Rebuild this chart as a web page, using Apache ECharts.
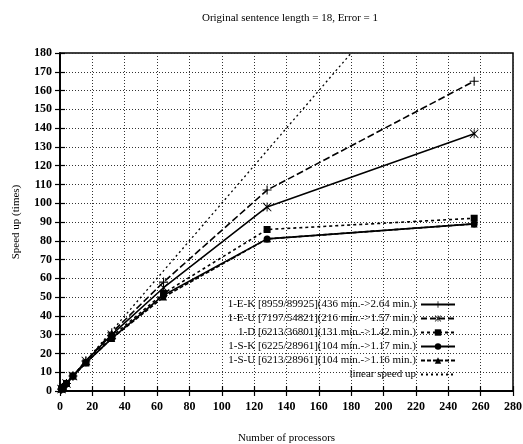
<!DOCTYPE html>
<html><head><meta charset="utf-8">
<script src="https://cdn.jsdelivr.net/npm/echarts@6/dist/echarts.min.js"></script>
<style>html,body{margin:0;padding:0;background:#fff}#c{width:523px;height:444px}</style>
</head><body><div id="c"></div>
<script>
const processors = [1, 2, 4, 8, 16, 32, 64, 128, 256];
const names = [
  '1-E-K [8959/89925](436 min.->2.64 min.)',
  '1-E-U [7197/54821](216 min.->1.57 min.)',
  '1-D [6213/36801](131 min.->1.42 min.)',
  '1-S-K [6225/28961](104 min.->1.17 min.)',
  '1-S-U [6213/28961](104 min.->1.16 min.)',
  'linear speed up'
];
const sEK = [1, 2, 4, 8, 16, 31, 58, 107, 165];
const sEU = [1, 2, 4, 8, 16, 30, 55, 98, 137];
const sD  = [1, 2, 4, 8, 15, 29, 52, 86, 92];
const sSK = [1, 2, 4, 8, 15, 28, 51, 81, 89];
const sSU = [1, 2, 4, 8, 15, 28, 50, 81, 89];
const sLin = [1, 2, 4, 8, 16, 32, 64, 128, 256];

const font = '"Liberation Serif", "DejaVu Serif", serif';
const plusPath = 'path://M0,4.4H10V5.6H0Z M4.4,0H5.6V10H4.4Z';
const starPath = 'path://M0.6,0L5,4.1L9.4,0L10,0.6L5.9,5L10,9.4L9.4,10L5,5.9L0.6,10L0,9.4L4.1,5L0,0.6Z M4.5,0H5.5V10H4.5Z';

function pts(v){ return processors.map((p,i)=>[p,v[i]]); }
function mk(name, vals, symbol, size, type){
  return {
    name, type:'line', data: pts(vals), symbol, symbolSize: size,
    showAllSymbol: true,
    lineStyle:{color:'#000', width:1.6, type: type},
    itemStyle:{color:'#000'},
    emphasis:{disabled:true}
  };
}
const chart = echarts.init(document.getElementById('c'));
chart.setOption({
  animation:false,
  backgroundColor:'#fff',
  title:{text:'Original sentence length = 18, Error = 1', left:285, top:8, textAlign:'center',
    textStyle:{fontFamily:font, fontSize:11, fontWeight:'normal', color:'#000'}},
  grid:{left:60, right:10, top:53, bottom:53, show:true, borderColor:'#000', borderWidth:1.5, outerBoundsMode:'none'},
  legend:{
    orient:'vertical', right:62, top:294, align:'right', itemGap:3,
    itemWidth:34, itemHeight:8,
    textStyle:{fontFamily:font, fontSize:11, color:'#000'},
    data:[
      {name:names[0], lineStyle:{type:'solid'}},
      {name:names[1], lineStyle:{type:[6,3]}},
      {name:names[2], lineStyle:{type:[3,3]}},
      {name:names[3], lineStyle:{type:'solid'}},
      {name:names[4], lineStyle:{type:[4,2]}},
      {name:names[5], itemStyle:{color:'transparent', borderWidth:0, opacity:0}}
    ]
  },
  xAxis:[{
    type:'value', min:0, max:280, interval:20, position:'bottom',
    name:'Number of processors', nameLocation:'middle', nameGap:42,
    nameTextStyle:{fontFamily:font, fontSize:11, color:'#000'},
    axisLine:{show:true, lineStyle:{color:'#000', width:1.5}},
    axisTick:{show:true, inside:true, length:5, lineStyle:{color:'#000', width:1.2}},
    axisLabel:{fontFamily:font, fontSize:12, fontWeight:'bold', color:'#000', margin:10},
    splitLine:{show:true, lineStyle:{color:'#333', type:[1,2], width:1}}
  },{
    type:'value', min:0, max:280, interval:20, position:'top',
    axisLine:{show:true, lineStyle:{color:'#000', width:1.5}},
    axisTick:{show:true, inside:true, length:5, lineStyle:{color:'#000', width:1.2}},
    axisLabel:{show:false}, splitLine:{show:false}
  }],
  yAxis:[{
    type:'value', min:0, max:180, interval:10, position:'left',
    name:'Speed up (times)', nameLocation:'middle', nameGap:38, nameRotate:90,
    nameTextStyle:{fontFamily:font, fontSize:11, color:'#000'},
    axisLine:{show:true, lineStyle:{color:'#000', width:1.5}},
    axisTick:{show:true, inside:true, length:5, lineStyle:{color:'#000', width:1.2}},
    axisLabel:{fontFamily:font, fontSize:12, fontWeight:'bold', color:'#000', margin:8},
    splitLine:{show:true, lineStyle:{color:'#333', type:[1,2], width:1}}
  },{
    type:'value', min:0, max:180, interval:10, position:'right',
    axisLine:{show:true, lineStyle:{color:'#000', width:1.5}},
    axisTick:{show:true, inside:true, length:5, lineStyle:{color:'#000', width:1.2}},
    axisLabel:{show:false}, splitLine:{show:false}
  }],
  series:[
    mk(names[0], sEK, plusPath, 9, [7,3]),
    mk(names[1], sEU, starPath, 9, 'solid'),
    mk(names[2], sD, 'rect', 7, [3,3]),
    mk(names[3], sSK, 'circle', 7, 'solid'),
    mk(names[4], sSU, 'triangle', 7, [4,2]),
    Object.assign(mk(names[5], sLin, 'none', 0, [2,3]), {lineStyle:{color:'#000', width:1.3, type:[2,3]}})
  ]
});
</script></body></html>
